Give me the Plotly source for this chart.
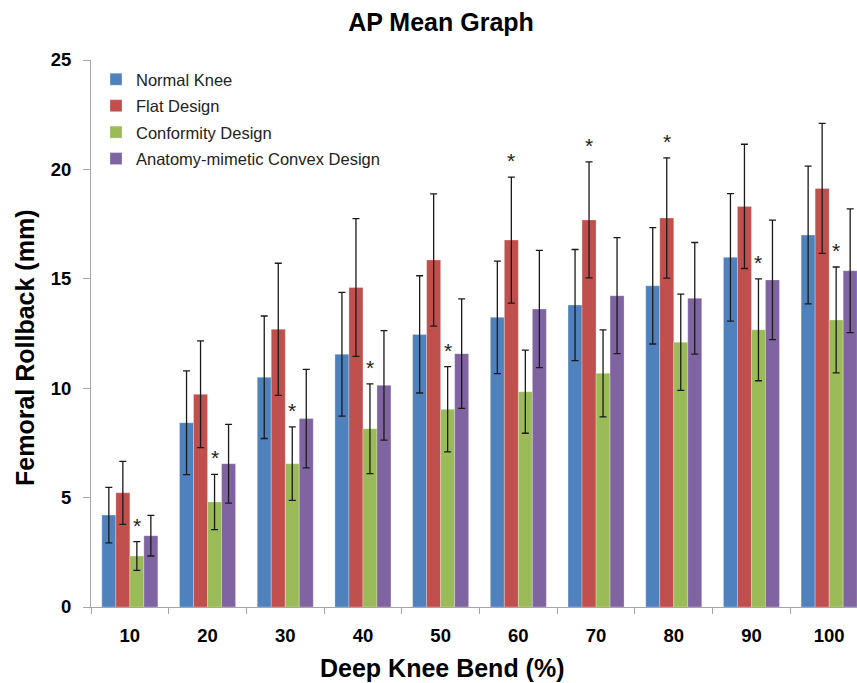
import plotly.graph_objects as go

categories = ["10", "20", "30", "40", "50", "60", "70", "80", "90", "100"]
series_names = ["Normal Knee", "Flat Design", "Conformity Design", "Anatomy-mimetic Convex Design"]

normal = [4.20, 8.42, 10.50, 11.55, 12.46, 13.24, 13.80, 14.68, 15.98, 17.00]
normal_err = [1.27, 2.37, 2.80, 2.83, 2.68, 2.57, 2.54, 2.66, 2.91, 3.15]

flat = [5.22, 9.72, 12.69, 14.60, 15.86, 16.77, 17.69, 17.78, 18.31, 19.13]
flat_err = [1.44, 2.44, 3.02, 3.15, 3.02, 2.88, 2.65, 2.75, 2.84, 2.97]

conformity = [2.33, 4.80, 6.55, 8.15, 9.04, 9.84, 10.68, 12.10, 12.67, 13.12]
conformity_err = [0.66, 1.26, 1.68, 2.05, 1.95, 1.90, 1.99, 2.20, 2.33, 2.42]

anatomy = [3.26, 6.55, 8.61, 10.13, 11.58, 13.62, 14.23, 14.11, 14.95, 15.37]
anatomy_err = [0.93, 1.80, 2.25, 2.50, 2.50, 2.68, 2.65, 2.55, 2.73, 2.83]

# series index (0..3) marked with a significance star in each group
star_series = [2, 2, 2, 2, 2, 1, 1, 1, 2, 2]

colors = ["#4F81BD", "#C0504D", "#9BBB59", "#8064A2"]
values = [normal, flat, conformity, anatomy]
errors = [normal_err, flat_err, conformity_err, anatomy_err]

FONT = "Arial, Liberation Sans, sans-serif"

fig = go.Figure()
for i, (name, vals, errs, col) in enumerate(zip(series_names, values, errors, colors)):
    fig.add_trace(go.Bar(
        x=categories, y=vals, name=name, legendgroup=name,
        marker=dict(color=col, line=dict(color="rgba(255,255,255,0.35)", width=0.8)),
        error_y=dict(type="data", array=errs, visible=True, color="#1a1a1a",
                     thickness=1.3, width=3.5),
    ))

W, H = 857, 683
ML, MR, MT, MB = 91, 0, 60, 76
pw = W - ML - MR
ph = H - MT - MB

bar_px = 14.0
annotations = []
for gi, si in enumerate(star_series):
    top = values[si][gi] + errors[si][gi]
    annotations.append(dict(
        x=gi, y=top, xref="x", yref="y", text="*", showarrow=False,
        xshift=(si - 1.5) * bar_px, yanchor="bottom", yshift=3,
        font=dict(family=FONT, size=21, color="#222222"),
    ))

annotations.append(dict(
    text="<b>Deep Knee Bend (%)</b>", x=(442 - ML) / pw, y=(H - MB - 668) / ph,
    xref="paper", yref="paper", xanchor="center", yanchor="middle",
    showarrow=False, font=dict(family=FONT, size=25, color="black"),
))
annotations.append(dict(
    text="<b>Femoral Rollback (mm)</b>", textangle=-90,
    x=(25 - ML) / pw, y=(H - MB - 348) / ph,
    xref="paper", yref="paper", xanchor="center", yanchor="middle",
    showarrow=False, font=dict(family=FONT, size=25, color="black"),
))

cat_px = 77.7
fig.update_layout(
    width=W, height=H,
    margin=dict(l=ML, r=MR, t=MT, b=MB),
    paper_bgcolor="white", plot_bgcolor="white",
    barmode="group", bargap=0.279, bargroupgap=0,
    title=dict(text="<b>AP Mean Graph</b>", x=441 / W, xref="container", xanchor="center",
               y=1 - 22 / H, yref="container", yanchor="middle",
               font=dict(family=FONT, size=25, color="black")),
    font=dict(family=FONT, color="black"),
    legend=dict(x=(96 - ML) / pw, y=1 - 2 / ph, xanchor="left", yanchor="top",
                font=dict(family=FONT, size=16.5, color="#222222"),
                tracegroupgap=2, bgcolor="rgba(0,0,0,0)", traceorder="grouped"),
    xaxis=dict(type="category", range=[-0.5, -0.5 + pw / cat_px], showline=True,
               linecolor="#a6a6a6", linewidth=1, ticks="outside", tickson="boundaries",
               ticklen=6, tickcolor="#a6a6a6", showgrid=False, zeroline=False,
               ticklabelstandoff=12,
               tickfont=dict(family=FONT, size=18.5, color="black", weight="bold"),
               fixedrange=True),
    yaxis=dict(range=[0, 25], tickvals=[0, 5, 10, 15, 20, 25], showline=True,
               linecolor="#a6a6a6", linewidth=1, ticks="outside", ticklen=7,
               tickcolor="#a6a6a6", showgrid=False, zeroline=False,
               ticklabelstandoff=8,
               tickfont=dict(family=FONT, size=18.5, color="black", weight="bold"),
               fixedrange=True),
    annotations=annotations,
)

fig.write_html("out.html", config={"displayModeBar": False},
               post_script="document.body.style.margin='0';document.body.style.padding='0';")
